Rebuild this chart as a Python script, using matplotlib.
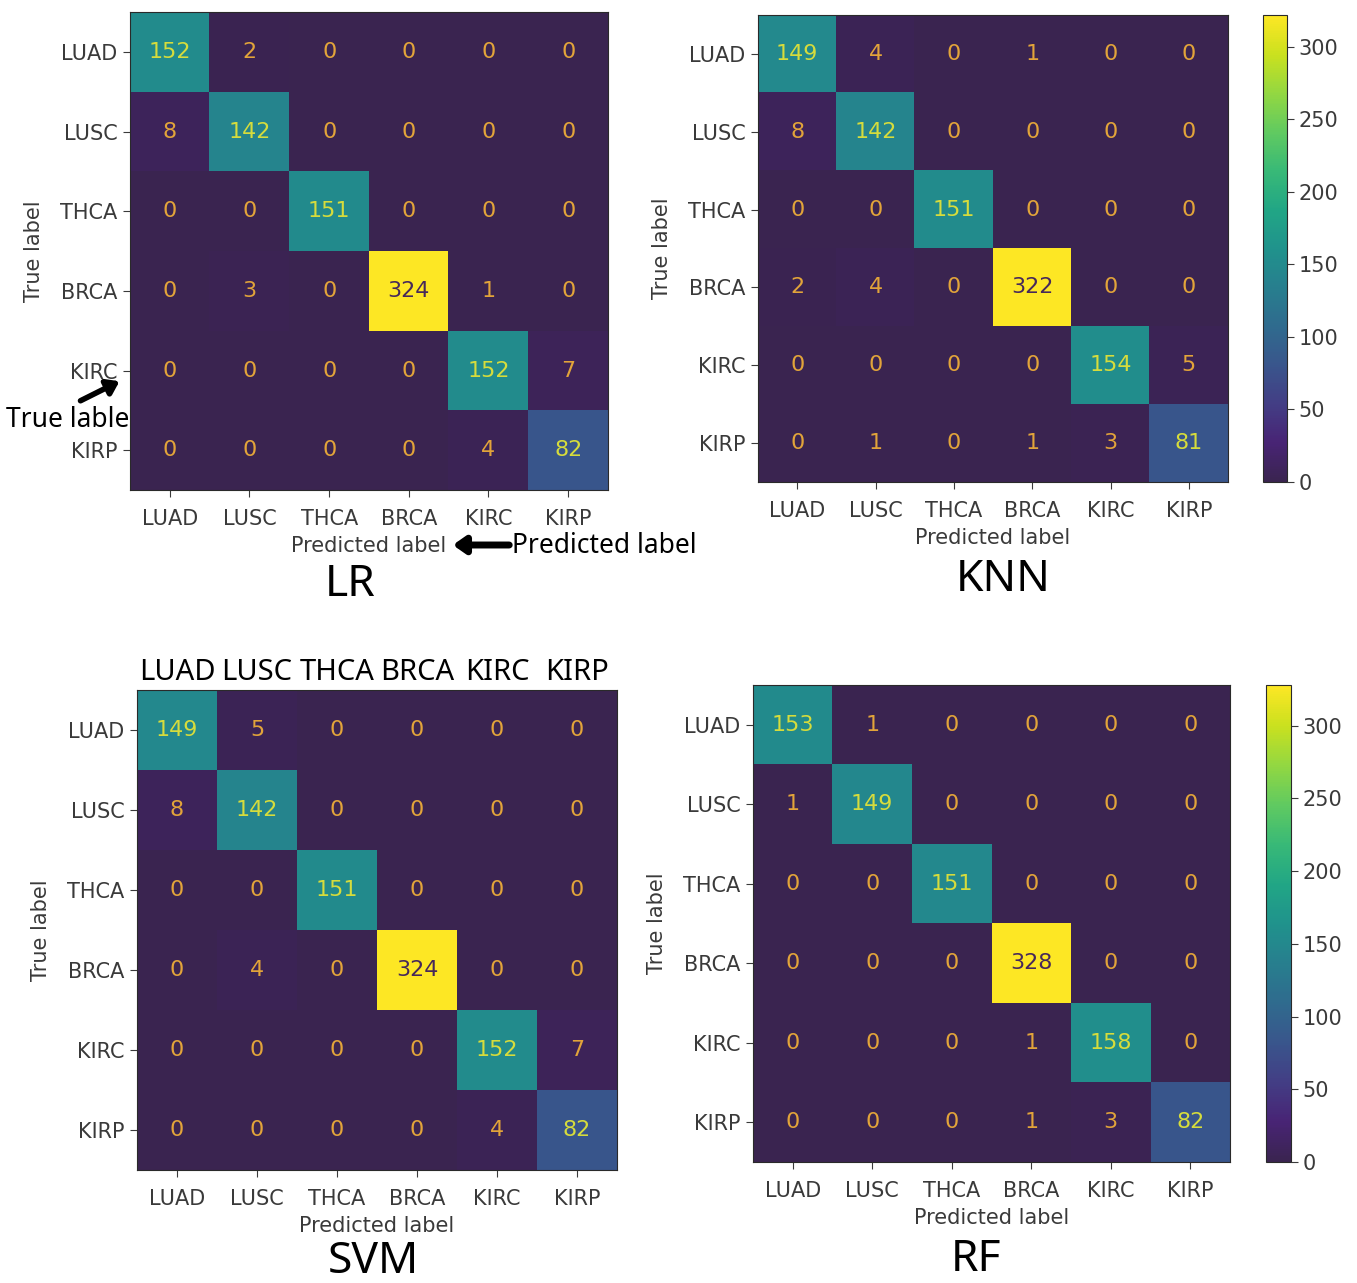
import matplotlib
matplotlib.use("Agg")
import matplotlib.pyplot as plt
import numpy as np
from matplotlib.colors import LinearSegmentedColormap, Normalize
from matplotlib.patches import FancyArrowPatch

W, H = 1357, 1283

labels = ["LUAD", "LUSC", "THCA", "BRCA", "KIRC", "KIRP"]

lr_cm = [
    [152, 2, 0, 0, 0, 0],
    [8, 142, 0, 0, 0, 0],
    [0, 0, 151, 0, 0, 0],
    [0, 3, 0, 324, 1, 0],
    [0, 0, 0, 0, 152, 7],
    [0, 0, 0, 0, 4, 82],
]
knn_cm = [
    [149, 4, 0, 1, 0, 0],
    [8, 142, 0, 0, 0, 0],
    [0, 0, 151, 0, 0, 0],
    [2, 4, 0, 322, 0, 0],
    [0, 0, 0, 0, 154, 5],
    [0, 1, 0, 1, 3, 81],
]
svm_cm = [
    [149, 5, 0, 0, 0, 0],
    [8, 142, 0, 0, 0, 0],
    [0, 0, 151, 0, 0, 0],
    [0, 4, 0, 324, 0, 0],
    [0, 0, 0, 0, 152, 7],
    [0, 0, 0, 0, 4, 82],
]
rf_cm = [
    [153, 1, 0, 0, 0, 0],
    [1, 149, 0, 0, 0, 0],
    [0, 0, 151, 0, 0, 0],
    [0, 0, 0, 328, 0, 0],
    [0, 0, 0, 1, 158, 0],
    [0, 0, 0, 1, 3, 82],
]
cbar_ticks = [0, 50, 100, 150, 200, 250, 300]

# viridis with a muted dark end, like the scanned figure
vir = plt.cm.viridis
cmap = LinearSegmentedColormap.from_list(
    "muted_viridis", ["#3a2450"] + [vir(x) for x in np.linspace(0.1, 1, 12)])

TICK_GRAY = "#3a3a3a"


def px(x, y, w, h):
    return [x / W, 1 - (y + h) / H, w / W, h / H]


def draw_cm(ax, data):
    data = np.array(data)
    norm = Normalize(0, data.max())
    im = ax.imshow(data, cmap=cmap, norm=norm, aspect="auto")
    for i in range(data.shape[0]):
        for j in range(data.shape[1]):
            v = norm(data[i, j])
            color = "#46285a" if v > 0.5 else ("#d6dc3c" if v > 0.2 else "#e2a43a")
            ax.text(j, i, str(data[i, j]), ha="center", va="center", fontsize=16, color=color)
    ax.set_xticks(range(len(labels)), labels)
    ax.set_yticks(range(len(labels)), labels)
    ax.tick_params(labelsize=15, colors=TICK_GRAY, length=5)
    ax.tick_params(axis="x", pad=9)
    ax.tick_params(axis="y", pad=4)
    ax.set_xlabel("Predicted label", fontsize=15, color=TICK_GRAY, labelpad=5)
    ax.set_ylabel("True label", fontsize=15, color=TICK_GRAY, labelpad=12)
    for s in ax.spines.values():
        s.set_color("#2a2a2a")
    return im


def add_cbar(fig, im, rect):
    cax = fig.add_axes(rect)
    cb = fig.colorbar(im, cax=cax, ticks=cbar_ticks)
    cb.ax.tick_params(labelsize=15, colors=TICK_GRAY, length=5)
    cb.outline.set_edgecolor("#2a2a2a")


fig = plt.figure(figsize=(W / 100, H / 100), dpi=100)
ann_font = ["Noto Sans", "DejaVu Sans"]

ax_lr = fig.add_axes(px(130, 12, 478, 478))
draw_cm(ax_lr, lr_cm)

ax_knn = fig.add_axes(px(758, 15, 470, 467))
im_knn = draw_cm(ax_knn, knn_cm)
add_cbar(fig, im_knn, px(1263, 15, 24, 467))

ax_svm = fig.add_axes(px(137, 690, 480, 480))
draw_cm(ax_svm, svm_cm)
for j, lab in enumerate(labels):
    ax_svm.annotate(lab, xy=(j, 1), xycoords=("data", "axes fraction"), xytext=(0, 2),
                    textcoords="offset points", ha="center", va="bottom",
                    fontsize=21, family=ann_font, color="black")

ax_rf = fig.add_axes(px(753, 685, 477, 477))
im_rf = draw_cm(ax_rf, rf_cm)
add_cbar(fig, im_rf, px(1266, 685, 25, 477))

# model names
for name, (x, y) in {"LR": (350, 585), "KNN": (1003, 580), "SVM": (373, 1262), "RF": (976, 1260)}.items():
    fig.text(x / W, 1 - y / H, name, ha="center", va="center", fontsize=32,
             family=ann_font, weight="medium")

# hand-drawn annotations on the LR panel
fig.text(68 / W, 1 - 420 / H, "True lable", ha="center", va="center", fontsize=19, family=ann_font)
fig.text(512 / W, 1 - 546 / H, "Predicted label", ha="left", va="center", fontsize=19, family=ann_font)
style = "-|>,head_length=0.5,head_width=0.35"
fig.add_artist(FancyArrowPatch((78 / W, 1 - 402 / H), (122 / W, 1 - 380 / H),
                               transform=fig.transFigure, arrowstyle=style,
                               color="black", lw=4, mutation_scale=14))
fig.add_artist(FancyArrowPatch((512 / W, 1 - 545 / H), (450 / W, 1 - 545 / H),
                               transform=fig.transFigure, arrowstyle=style,
                               color="black", lw=5, mutation_scale=14))

fig.savefig("out.png", dpi=100, facecolor="white")
